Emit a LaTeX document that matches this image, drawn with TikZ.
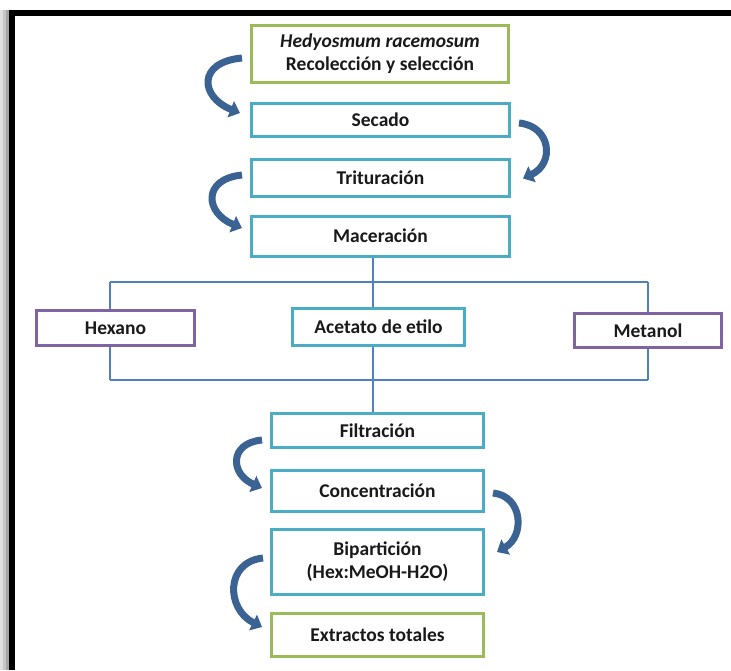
\documentclass[tikz,border=0pt]{standalone}
\usepackage{fontspec}
\setmainfont{Carlito}
\usetikzlibrary{arrows.meta,calc}
\definecolor{bgreen}{RGB}{155,187,89}
\definecolor{bcyan}{RGB}{75,172,198}
\definecolor{bpurple}{RGB}{128,100,162}
\definecolor{lineblue}{RGB}{79,129,189}
\definecolor{arrowblue}{RGB}{58,98,146}
\tikzset{
  box/.style={draw, line width=3pt, rectangle, fill=white, inner sep=2pt,
    font=\fontsize{19.5}{23}\selectfont\bfseries, align=center, text=black!90},
  greenbox/.style={box, draw=bgreen},
  cyanbox/.style={box, draw=bcyan},
  purplebox/.style={box, draw=bpurple},
  conn/.style={draw=lineblue, line width=1.4pt},
  curvarrow/.style={draw=arrowblue, line width=7pt, -{Triangle[width=17pt,length=10pt]}},
}
\begin{document}
\begin{tikzpicture}[x=1pt,y=-1pt]
\useasboundingbox (0,0) rectangle (731,670);
% frame with shadow
\fill[black!12] (0,10) rectangle (3,670);
\fill[black!22] (3,10) rectangle (6,670);
\fill[black!35] (6,10) rectangle (9,670);
\fill[black] (9,10) rectangle (731,15.5);
\fill[black] (9,10) rectangle (14.5,670);

% nodes
\node[greenbox, minimum width=257pt, minimum height=57pt] (rec) at (380,53.5)
  {\textit{Hedyosmum racemosum}\\Recolección y selección};
\node[cyanbox, minimum width=258pt, minimum height=33pt] (sec) at (380.5,120) {Secado};
\node[cyanbox, minimum width=258pt, minimum height=37pt] (tri) at (380.5,177.5) {Trituración};
\node[cyanbox, minimum width=258pt, minimum height=40pt] (mac) at (380.5,236) {Maceración};
\node[purplebox, minimum width=158pt, minimum height=35pt] (hex) at (115.5,328) {Hexano};
\node[cyanbox, minimum width=172pt, minimum height=37pt] (ace) at (378.5,327) {Acetato de etilo};
\node[purplebox, minimum width=147pt, minimum height=34pt] (met) at (648,330.5) {Metanol};
\node[cyanbox, minimum width=212pt, minimum height=34pt] (fil) at (377.5,430.5) {Filtración};
\node[cyanbox, minimum width=212pt, minimum height=41pt] (con) at (377.5,491) {Concentración};
\node[cyanbox, minimum width=212pt, minimum height=65pt] (bip) at (377.5,562) {Bipartición\\(Hex:MeOH-H2O)};
\node[greenbox, minimum width=212pt, minimum height=43pt] (ext) at (377.5,635) {Extractos totales};

% branching connectors
\coordinate (tl) at (110,282);
\coordinate (tm) at (373,282);
\coordinate (tr) at (648,282);
\coordinate (bl) at (110,380);
\coordinate (bm) at (373,380);
\coordinate (br) at (648,380);
\draw[conn] (tm |- mac.south) -- (tm);
\draw[conn] (tl) -- (tr);
\draw[conn] (tl) -- (tl |- hex.north);
\draw[conn] (tm) -- (tm |- ace.north);
\draw[conn] (tr) -- (tr |- met.north);
\draw[conn] (bl |- hex.south) -- (bl);
\draw[conn] (br |- met.south) -- (br);
\draw[conn] (bl) -- (br);
\draw[conn] (bm |- ace.south) -- (bm |- fil.north);

% curved arrows
\draw[curvarrow] ([shift={(-8,4.5)}]rec.west) .. controls +(-45,4) and +(-40,-16) .. ([shift={(-10,-7)}]sec.west);
\draw[curvarrow] ([shift={(8,3)}]sec.east) .. controls +(32,3) and +(32,-15) .. ([shift={(12,1)}]tri.east);
\draw[curvarrow] ([shift={(-8,-2.5)}]tri.west) .. controls +(-40,4) and +(-37,-15) .. ([shift={(-8,-8)}]mac.west);
\draw[curvarrow] ([shift={(-8,9.5)}]fil.west) .. controls +(-33,3) and +(-32,-14) .. ([shift={(-8,-3)}]con.west);
\draw[curvarrow] ([shift={(8,2)}]con.east) .. controls +(30,3) and +(28,-16) .. ([shift={(12,-10)}]bip.east);
\draw[curvarrow] ([shift={(-7,-4)}]bip.west) .. controls +(-38,4) and +(-36,-18) .. ([shift={(-8,-8)}]ext.west);
\end{tikzpicture}
\end{document}
